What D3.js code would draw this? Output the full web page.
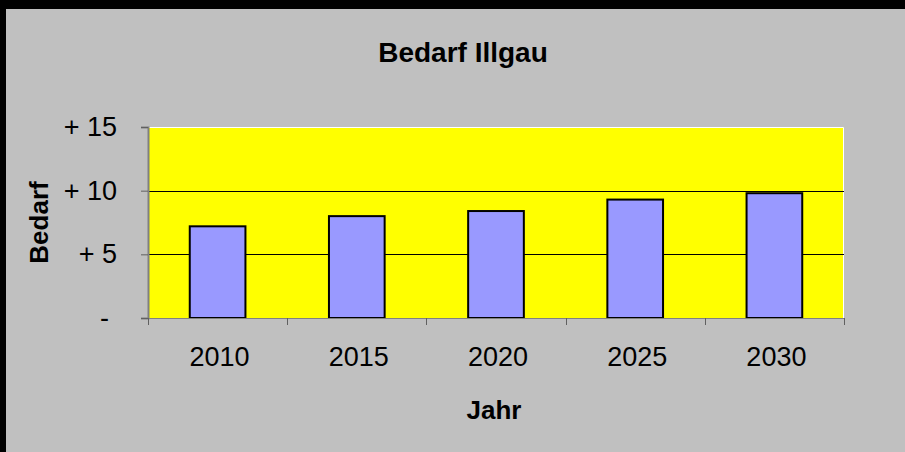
<!DOCTYPE html>
<html>
<head>
<meta charset="utf-8">
<script src="https://cdn.jsdelivr.net/npm/d3@7"></script>
<style>
  html, body { margin: 0; padding: 0; background: #c0c0c0; overflow: hidden; }
  svg { display: block; font-family: "Liberation Sans", Arial, sans-serif; }
</style>
</head>
<body>
<svg></svg>
<script>
const years = ["2010", "2015", "2020", "2025", "2030"]
const bedarf = [7.2, 8.0, 8.4, 9.3, 9.8]
const yTickValues = [0, 5, 10, 15]
const yTickLabels = ["-", "+ 5", "+ 10", "+ 15"]

const svgWidth = 905
const svgHeight = 452
const plot = { left: 148, top: 127, right: 844, bottom: 318 }

const svg = d3.select("svg")
    .attr("width", svgWidth)
    .attr("height", svgHeight)

// chart area + the dark frame along top and left
svg.append("rect")
    .attr("width", svgWidth).attr("height", svgHeight)
    .attr("fill", "#c0c0c0")
svg.append("rect")
    .attr("x", 0).attr("y", 0).attr("width", svgWidth).attr("height", 9)
    .attr("fill", "#000")
svg.append("rect")
    .attr("x", 0).attr("y", 0).attr("width", 6).attr("height", svgHeight)
    .attr("fill", "#000")

const xScale = d3.scaleBand()
    .domain(years)
    .range([plot.left, plot.right])
    .paddingInner(0.6)
    .paddingOuter(0.3)

const yScale = d3.scaleLinear()
    .domain([0, 15])
    .range([plot.bottom, plot.top])

// plot area
svg.append("rect")
    .attr("x", plot.left).attr("y", plot.top)
    .attr("width", plot.right - plot.left)
    .attr("height", plot.bottom - plot.top)
    .attr("fill", "#ffff00")

// white edge on top and right
svg.append("path")
    .attr("d", `M${plot.left},${plot.top + 0.5}H${plot.right - 0.5}V${plot.bottom}`)
    .attr("stroke", "#fff").attr("fill", "none")

// gridlines
svg.selectAll(".grid")
    .data(yTickValues.filter(d => d > 0 && d < 15))
    .join("line")
    .attr("class", "grid")
    .attr("x1", plot.left).attr("x2", plot.right)
    .attr("y1", d => Math.round(yScale(d)) + 0.5)
    .attr("y2", d => Math.round(yScale(d)) + 0.5)
    .attr("stroke", "#000")

// bars
svg.selectAll(".bar")
    .data(bedarf)
    .join("rect")
    .attr("class", "bar")
    .attr("x", (d, i) => xScale(years[i]))
    .attr("y", d => yScale(d))
    .attr("width", xScale.bandwidth())
    .attr("height", d => plot.bottom - yScale(d))
    .attr("fill", "#9999ff")
    .attr("stroke", "#000")
    .attr("stroke-width", 2)

// y axis
const yAxis = svg.append("g")
    .attr("transform", `translate(${plot.left},0)`)
    .call(d3.axisLeft(yScale)
        .tickValues(yTickValues)
        .tickSize(7)
        .tickPadding(24)
        .tickFormat((d, i) => yTickLabels[i]))
yAxis.select(".domain").attr("stroke", "#808080").attr("stroke-width", 2)
yAxis.selectAll(".tick line").attr("stroke", "#606060")
yAxis.selectAll(".tick text")
    .attr("font-size", 27)
    .attr("fill", "#000")
    .attr("font-family", "Liberation Sans, Arial, sans-serif")
    .attr("dx", (d, i) => i === 0 ? -8 : 0)

// x axis: ticks sit on the category boundaries
const boundaries = d3.range(years.length + 1)
    .map(i => plot.left + i * xScale.step())
svg.append("line")
    .attr("x1", plot.left).attr("x2", plot.right)
    .attr("y1", plot.bottom + 0.5).attr("y2", plot.bottom + 0.5)
    .attr("stroke", "#808080")
svg.selectAll(".xtick")
    .data(boundaries)
    .join("line")
    .attr("class", "xtick")
    .attr("x1", d => Math.round(d) + 0.5).attr("x2", d => Math.round(d) + 0.5)
    .attr("y1", plot.bottom).attr("y2", plot.bottom + 7)
    .attr("stroke", "#606060")
svg.selectAll(".xlabel")
    .data(years)
    .join("text")
    .attr("class", "xlabel")
    .attr("x", d => xScale(d) + xScale.bandwidth() / 2 + 2)
    .attr("y", 366)
    .attr("text-anchor", "middle")
    .attr("font-size", 27)
    .text(d => d)

// titles
svg.append("text")
    .text("Bedarf Illgau")
    .attr("x", 463)
    .attr("y", 62)
    .attr("text-anchor", "middle")
    .attr("font-size", 28)
    .attr("font-weight", "bold")

svg.append("text")
    .text("Jahr")
    .attr("x", 494)
    .attr("y", 419)
    .attr("text-anchor", "middle")
    .attr("font-size", 26)
    .attr("font-weight", "bold")

svg.append("text")
    .text("Bedarf")
    .attr("transform", `translate(48,${(plot.top + plot.bottom) / 2}) rotate(-90)`)
    .attr("text-anchor", "middle")
    .attr("font-size", 26)
    .attr("font-weight", "bold")
</script>
</body>
</html>
